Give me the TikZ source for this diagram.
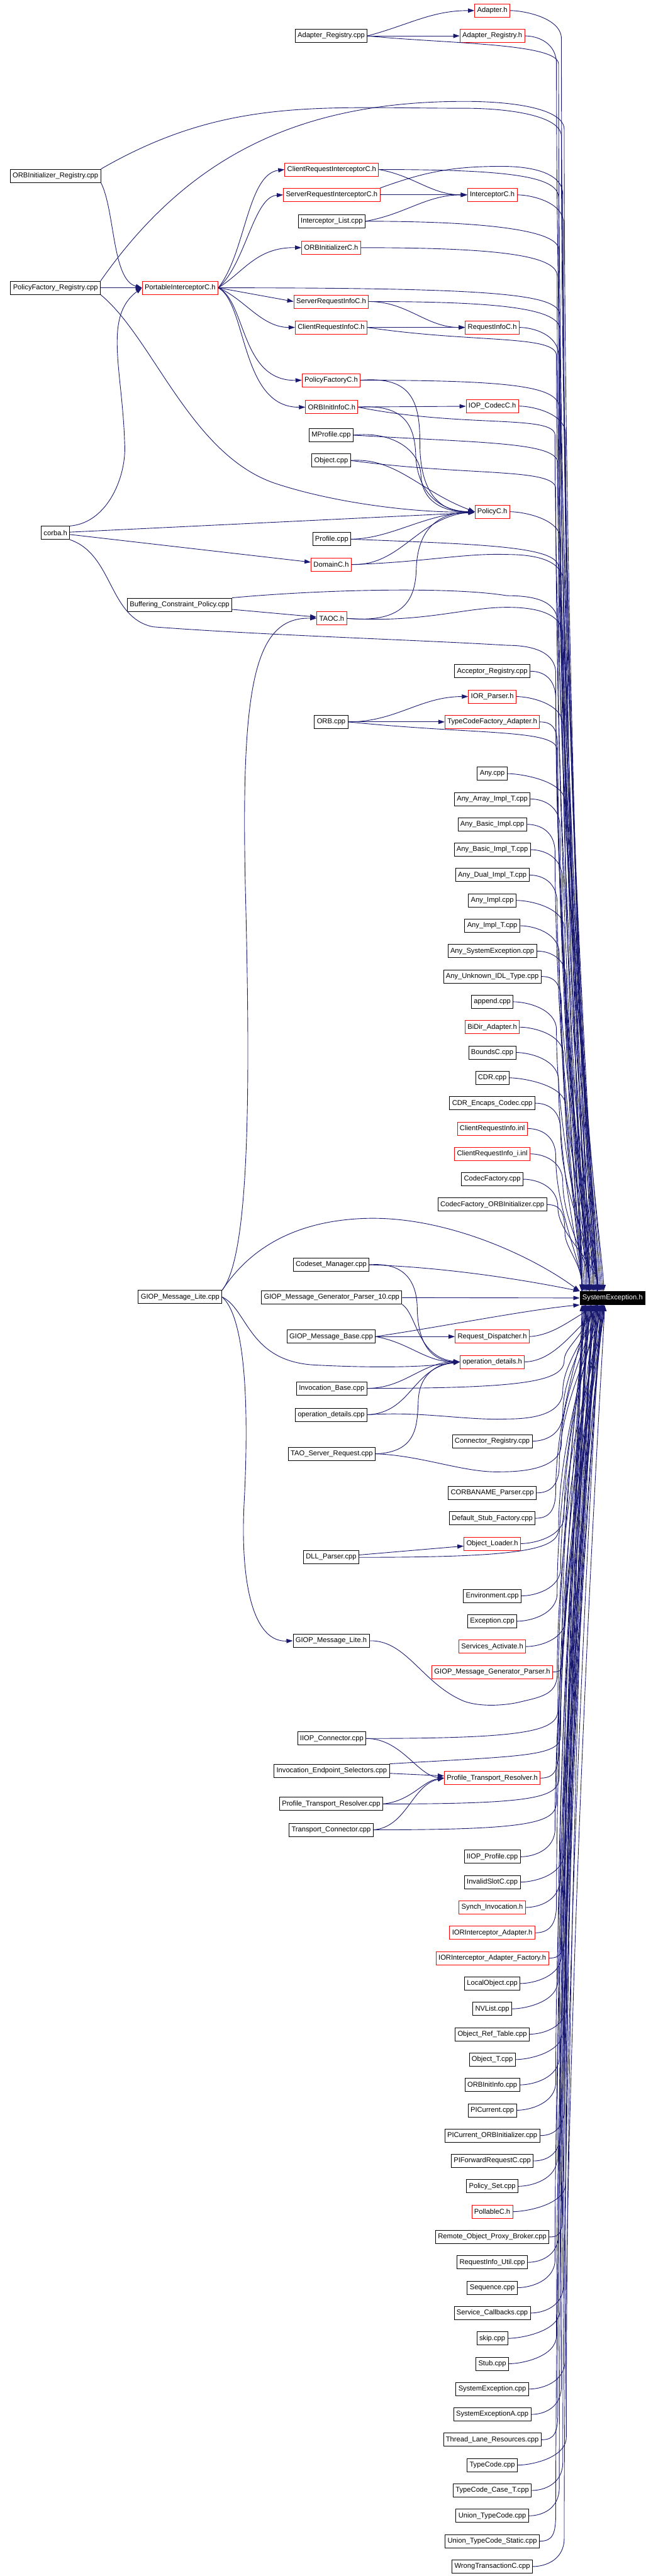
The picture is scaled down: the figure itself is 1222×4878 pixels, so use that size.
\documentclass[tikz,border=0pt]{standalone}
\usepackage{fontspec}
\setmainfont{Liberation Sans}
\usetikzlibrary{arrows.meta,calc}
\definecolor{edgeblue}{RGB}{25,25,112}
\tikzset{
  file/.style  = {draw=black, line width=0.75pt, fill=white, inner sep=0pt, inner xsep=3.5pt,
                  minimum height=18.75pt, font=\fontsize{10}{12}\selectfont},
  trunc/.style = {file, draw=red},
  focus/.style = {file, fill=black, text=white},
  edge/.style  = {-{Triangle[length=9pt,width=6pt]}, draw=edgeblue, line width=0.8pt},
}
% edges that join the right-hand bundle into SystemException.h
\newcommand{\sysdn}[5][]{%
  \draw[edge] let \p1=(#2), \p2=([xshift=-#4]sys.west), \p3=([xshift=#5]sys.north west) in
    #1 (\p1) .. controls +(#3) and ({\x2},{\y1-10pt}) .. ({\x2},{\y1-40pt})
    .. controls ({\x2},{(\y1+\y3)/2}) and ({\x3},{\y3+40pt}) .. (\p3);}
\newcommand{\sysup}[5][]{%
  \draw[edge] let \p1=(#2), \p2=([xshift=-#4]sys.west), \p3=([xshift=#5]sys.south west) in
    #1 (\p1) .. controls +(#3) and ({\x2},{\y1+10pt}) .. ({\x2},{\y1+40pt})
    .. controls ({\x2},{(\y1+\y3)/2}) and ({\x3},{\y3-40pt}) .. (\p3);}

\begin{document}
\begin{tikzpicture}[x=0.75pt, y=-0.75pt]
  \useasboundingbox (0,0) rectangle (1222,4878);

  \node[focus, anchor=east] (sys) at (1222,2458) {SystemException.h};

  \node[file]  (oreg)   at (105,333)  {ORBInitializer\_Registry.cpp};
  \node[file]  (pfreg)  at (105,545)  {PolicyFactory\_Registry.cpp};
  \node[file]  (corba)  at (105,1009) {corba.h};
  \node[trunc] (pic)    at (341,545)  {PortableInterceptorC.h};
  \node[file]  (bcp)    at (340,1145) {Buffering\_Constraint\_Policy.cpp};
  \node[file]  (gmlcpp) at (341,2456) {GIOP\_Message\_Lite.cpp};
  \node[file]  (areg)   at (627,68)   {Adapter\_Registry.cpp};
  \node[trunc] (cric)   at (628,321)  {ClientRequestInterceptorC.h};
  \node[trunc] (sric)   at (628,369)  {ServerRequestInterceptorC.h};
  \node[file]  (ilist)  at (628,419)  {Interceptor\_List.cpp};
  \node[trunc] (oric)   at (627,469)  {ORBInitializerC.h};
  \node[trunc] (sri)    at (627,571)  {ServerRequestInfoC.h};
  \node[trunc] (cri)    at (627,620)  {ClientRequestInfoC.h};
  \node[trunc] (pfc)    at (627,720)  {PolicyFactoryC.h};
  \node[trunc] (oiic)   at (628,771)  {ORBInitInfoC.h};
  \node[file]  (mprof)  at (627,824)  {MProfile.cpp};
  \node[file]  (obj)    at (627,872)  {Object.cpp};
  \node[file]  (prof)   at (628,1021) {Profile.cpp};
  \node[trunc] (domc)   at (627,1069) {DomainC.h};
  \node[trunc] (taoc)   at (628,1171) {TAOC.h};
  \node[file]  (orb)    at (627,1367) {ORB.cpp};
  \node[file]  (csm)    at (627,2395) {Codeset\_Manager.cpp};
  \node[file]  (gmgp10) at (628,2457) {GIOP\_Message\_Generator\_Parser\_10.cpp};
  \node[file]  (gmb)    at (627,2531) {GIOP\_Message\_Base.cpp};
  \node[file]  (ibase)  at (628,2629) {Invocation\_Base.cpp};
  \node[file]  (opdcpp) at (627,2679) {operation\_details.cpp};
  \node[file]  (tsr)    at (628,2753) {TAO\_Server\_Request.cpp};
  \node[file]  (dll)    at (627,2949) {DLL\_Parser.cpp};
  \node[file]  (gmlh)   at (627,3107) {GIOP\_Message\_Lite.h};
  \node[file]  (iiopc)  at (628,3292) {IIOP\_Connector.cpp};
  \node[file]  (ies)    at (628,3353) {Invocation\_Endpoint\_Selectors.cpp};
  \node[file]  (ptrcpp) at (627,3416) {Profile\_Transport\_Resolver.cpp};
  \node[file]  (tcon)   at (627,3465) {Transport\_Connector.cpp};
  \node[trunc] (rdisp)  at (932,2531) {Request\_Dispatcher.h};
  \node[trunc] (opdh)   at (932,2579) {operation\_details.h};

  % right column above SystemException.h
  \foreach \nm/\txt/\yy/\st [count=\i] in {
    adh/Adapter.h/20/trunc, aregh/Adapter\_Registry.h/68/trunc,
    intc/InterceptorC.h/369/trunc, ric/RequestInfoC.h/620/trunc,
    iopc/IOP\_CodecC.h/769/trunc, polc/PolicyC.h/969/trunc,
    accreg/Acceptor\_Registry.cpp/1271/file, iorp/IOR\_Parser.h/1319/trunc,
    tcfa/TypeCodeFactory\_Adapter.h/1367/trunc, any/Any.cpp/1465/file,
    anyarr/Any\_Array\_Impl\_T.cpp/1513/file, anybasic/Any\_Basic\_Impl.cpp/1561/file,
    anybasict/Any\_Basic\_Impl\_T.cpp/1609/file, anydual/Any\_Dual\_Impl\_T.cpp/1657/file,
    anyimpl/Any\_Impl.cpp/1705/file, anyimplt/Any\_Impl\_T.cpp/1753/file,
    anysysex/Any\_SystemException.cpp/1801/file, anyunk/Any\_Unknown\_IDL\_Type.cpp/1849/file,
    append/append.cpp/1897/file, bidir/BiDir\_Adapter.h/1945/trunc,
    bounds/BoundsC.cpp/1993/file, cdr/CDR.cpp/2041/file,
    cdrenc/CDR\_Encaps\_Codec.cpp/2089/file, crinl/ClientRequestInfo.inl/2137/trunc,
    criinl/ClientRequestInfo\_i.inl/2185/trunc, codecf/CodecFactory.cpp/2233/file,
    codecfoi/CodecFactory\_ORBInitializer.cpp/2281/file}{
    \node[\st] (\nm) at (932,\yy) {\txt};
    \pgfmathsetlengthmacro\lane{(19+mod(7*\i,17))*1pt}
    \pgfmathsetlengthmacro\tgt{(3+mod(11*\i,33))*1pt}
    \sysdn{\nm.east}{25,0}{\lane}{\tgt}
  }

  % right column below SystemException.h
  \foreach \nm/\txt/\yy/\st [count=\i] in {
    creg/Connector\_Registry.cpp/2729/file, corbaname/CORBANAME\_Parser.cpp/2827/file,
    dsf/Default\_Stub\_Factory.cpp/2875/file, objl/Object\_Loader.h/2923/trunc,
    env/Environment.cpp/3022/file, exc/Exception.cpp/3070/file,
    svcact/Services\_Activate.h/3118/trunc, gmgph/GIOP\_Message\_Generator\_Parser.h/3166/trunc,
    ptrh/Profile\_Transport\_Resolver.h/3367/trunc, iiopprof/IIOP\_Profile.cpp/3516/file,
    invslot/InvalidSlotC.cpp/3564/file, synch/Synch\_Invocation.h/3612/trunc,
    iorad/IORInterceptor\_Adapter.h/3660/trunc, ioradf/IORInterceptor\_Adapter\_Factory.h/3708/trunc,
    localobj/LocalObject.cpp/3756/file, nvlist/NVList.cpp/3804/file,
    objref/Object\_Ref\_Table.cpp/3852/file, objt/Object\_T.cpp/3900/file,
    oiicpp/ORBInitInfo.cpp/3948/file, picur/PICurrent.cpp/3996/file,
    picuroi/PICurrent\_ORBInitializer.cpp/4044/file, pifwd/PIForwardRequestC.cpp/4092/file,
    polset/Policy\_Set.cpp/4140/file, pollc/PollableC.h/4188/trunc,
    ropb/Remote\_Object\_Proxy\_Broker.cpp/4236/file, riutil/RequestInfo\_Util.cpp/4284/file,
    seq/Sequence.cpp/4332/file, svccb/Service\_Callbacks.cpp/4380/file,
    skip/skip.cpp/4428/file, stub/Stub.cpp/4476/file,
    sysexcpp/SystemException.cpp/4524/file, sysexa/SystemExceptionA.cpp/4572/file,
    tlr/Thread\_Lane\_Resources.cpp/4620/file, tc/TypeCode.cpp/4668/file,
    tccase/TypeCode\_Case\_T.cpp/4716/file, utc/Union\_TypeCode.cpp/4764/file,
    utcs/Union\_TypeCode\_Static.cpp/4812/file, wtc/WrongTransactionC.cpp/4860/file}{
    \node[\st] (\nm) at (932,\yy) {\txt};
    \pgfmathsetlengthmacro\lane{(19+mod(5*\i,17))*1pt}
    \pgfmathsetlengthmacro\tgt{(3+mod(13*\i,33))*1pt}
    \sysup{\nm.east}{25,0}{\lane}{\tgt}
  }

  % PortableInterceptorC.h
  \draw[edge] (oreg.south east) .. controls (218,400) and (212,530) .. (pic.west);
  \draw[edge] (pfreg) -- (pic);
  \draw[edge] (corba.north east) .. controls (205,990) and (240,900) .. (236,840)
              .. controls (232,700) and (195,600) .. (pic.west);
  \draw[edge] (pic.east) .. controls (465,480) and (468,330) .. (cric.west);
  \draw[edge] (pic.east) .. controls (465,500) and (480,372) .. (sric.west);
  \draw[edge] (pic.east) .. controls (462,515) and (485,468) .. (oric.west);
  \draw[edge] (pic.east) -- (sri.west);
  \draw[edge] (pic.east) .. controls (462,565) and (495,620) .. (cri.west);
  \draw[edge] (pic.east) .. controls (466,570) and (455,722) .. (pfc.west);
  \draw[edge] (pic.east) .. controls (468,575) and (455,772) .. (oiic.west);

  \draw[edge] (areg.east) to[out=15,in=180] (adh.west);
  \draw[edge] (areg) -- (aregh);
  \draw[edge] (cric.east) to[out=-10,in=180] (intc.west);
  \draw[edge] (sric) -- (intc);
  \draw[edge] (ilist.east) to[out=10,in=180] (intc.west);
  \draw[edge] (sri.east) to[out=0,in=180] (ric.west);
  \draw[edge] (cri) -- (ric);
  \draw[edge] (oiic) -- (iopc);

  % PolicyC.h
  \draw[edge] (pfreg.south east) .. controls (290,640) and (360,860) .. (520,915)
              .. controls (640,955) and (800,972) .. (polc.west);
  \draw[edge] (corba) -- (polc);
  \draw[edge] (corba) -- (domc);
  \draw[edge] (pfc.east) .. controls (780,712) and (795,760) .. (795,840)
              .. controls (795,930) and (830,970) .. (polc.west);
  \draw[edge] (oiic.east) .. controls (760,765) and (785,800) .. (787,860)
              .. controls (789,930) and (830,968) .. (polc.west);
  \draw[edge] (mprof.east) .. controls (740,816) and (795,850) .. (797,900)
              .. controls (799,950) and (840,970) .. (polc.west);
  \draw[edge] (obj.east) .. controls (750,866) and (795,930) .. (polc.west);
  \draw[edge] (prof.east) .. controls (740,1020) and (800,975) .. (polc.west);
  \draw[edge] (domc.east) .. controls (760,1072) and (790,980) .. (polc.west);
  \draw[edge] (taoc.east) .. controls (760,1180) and (786,1140) .. (788,1080)
              .. controls (790,1000) and (830,972) .. (polc.west);

  % TAOC.h, ORB.cpp
  \draw[edge] (bcp) -- (taoc);
  \draw[edge] (gmlcpp.north east) .. controls (470,2380) and (475,2100) .. (465,1700)
              .. controls (455,1300) and (480,1168) .. (taoc.west);
  \draw[edge] (orb.east) to[out=0,in=180] (iorp.west);
  \draw[edge] (orb) -- (tcfa);

  % operation_details.h and friends
  \draw[edge] (csm.east) .. controls (760,2390) and (790,2420) .. (790,2480)
              .. controls (792,2550) and (820,2577) .. (opdh.west);
  \draw[edge] (gmlcpp.east) .. controls (470,2480) and (470,2580) .. (600,2585)
              .. controls (700,2590) and (800,2590) .. (opdh.west);
  \draw[edge] (gmgp10.south east) .. controls (790,2490) and (790,2570) .. (opdh.west);
  \draw[edge] (gmb) -- (rdisp);
  \draw[edge] (gmb.east) to[out=-10,in=180] (opdh.west);
  \draw[edge] (ibase.east) to[out=0,in=180] (opdh.west);
  \draw[edge] (opdcpp.east) .. controls (780,2675) and (780,2590) .. (opdh.west);
  \draw[edge] (tsr.east) .. controls (790,2750) and (790,2700) .. (792,2650)
              .. controls (795,2600) and (830,2582) .. (opdh.west);
  \draw[edge] (gmlcpp.east) .. controls (470,2500) and (470,2700) .. (462,2850)
              .. controls (455,3000) and (480,3110) .. (gmlh.west);
  \draw[edge] (dll) -- (objl);
  \draw[edge] (iiopc.east) .. controls (760,3292) and (790,3362) .. (ptrh.west);
  \draw[edge] (ies) -- (ptrh);
  \draw[edge] (ptrcpp.east) .. controls (780,3410) and (800,3372) .. (ptrh.west);
  \draw[edge] (tcon.east) .. controls (770,3460) and (780,3380) .. (ptrh.west);

  % into SystemException.h from the left
  \sysdn{areg.east}{150,15}{30pt}{10pt}
  \sysdn[{(oreg.north east) to[out=30,in=180]}]{880,205}{80,0}{26pt}{20pt}
  \sysdn[{(pfreg.north east) to[out=55,in=180]}]{880,192}{90,0}{22pt}{14pt}
  \sysdn[{(corba.south east) .. controls (215,1050) and (205,1170) .. (290,1187)
          .. controls (500,1203) and (800,1212) ..}]{960,1222}{50,0}{34pt}{6pt}
  \sysdn{pic.east}{550,0}{28pt}{16pt}
  \sysdn{cric.east}{250,0}{30pt}{12pt}
  \sysdn[{(sric.north east) to[out=20,in=180]}]{950,315}{60,0}{24pt}{18pt}
  \sysdn{ilist.east}{200,0}{30pt}{22pt}
  \sysdn{oric.east}{250,0}{32pt}{8pt}
  \sysdn{sri.east}{250,0}{28pt}{24pt}
  \sysdn{cri.east}{200,30}{33pt}{26pt}
  \sysdn{pfc.east}{300,0}{29pt}{28pt}
  \sysdn{oiic.east}{200,40}{35pt}{30pt}
  \sysdn{mprof.east}{250,15}{31pt}{32pt}
  \sysdn{obj.east}{220,30}{34pt}{4pt}
  \sysdn{prof.east}{250,10}{30pt}{34pt}
  \sysdn[{(domc.east) .. controls (800,1065) and (880,1047) ..}]{960,1050}{60,0}{23pt}{10pt}
  \sysdn[{(bcp.north east) .. controls (600,1117) and (850,1110) ..}]{960,1128}{60,0}{31pt}{20pt}
  \sysdn[{(taoc.east) .. controls (800,1180) and (880,1150) ..}]{960,1150}{60,0}{24pt}{26pt}
  \sysdn{orb.east}{250,25}{32pt}{14pt}
  \draw[edge] (csm.east) .. controls (850,2400) and (1000,2425) .. (sys.north west);
  \draw[edge] (gmlcpp.north east) .. controls (450,2400) and (520,2310) .. (700,2307)
              .. controls (850,2305) and (1010,2380) .. (sys.north west);
  \draw[edge] (gmgp10) -- (sys);
  \draw[edge] (gmb.east) .. controls (850,2510) and (1000,2480) .. (sys.south west);
  \draw[edge] (rdisp.east) .. controls (1050,2528) and (1085,2495) .. ([xshift=-20pt]sys.south);
  \draw[edge] (opdh.east) .. controls (1050,2577) and (1085,2520) .. ([xshift=-14pt]sys.south);
  \sysup{ibase.east}{300,0}{22pt}{12pt}
  \sysup[{(opdcpp.east) .. controls (800,2672) and (880,2690) ..}]{960,2687}{60,0}{24pt}{16pt}
  \sysup[{(tsr.east) .. controls (800,2756) and (880,2790) ..}]{950,2787}{60,0}{26pt}{20pt}
  \sysup{dll.east}{300,0}{30pt}{24pt}
  \sysup[{(gmlh.east) .. controls (770,3105) and (800,3190) .. (880,3222)
          .. controls (910,3232) and (950,3230) ..}]{980,3224}{40,-10}{32pt}{28pt}
  \sysup{iiopc.east}{300,0}{31pt}{8pt}
  \sysup{ies.north east}{250,-15}{27pt}{30pt}
  \sysup{ptrcpp.east}{300,0}{29pt}{32pt}
  \sysup{tcon.east}{300,0}{33pt}{34pt}
\end{tikzpicture}
\end{document}
